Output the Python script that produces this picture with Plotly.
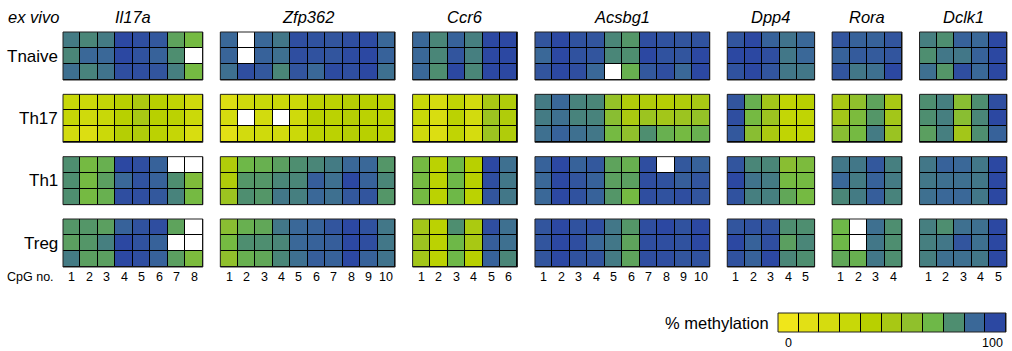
import plotly.graph_objects as go

N = None
genes = ["Il17a", "Zfp362", "Ccr6", "Acsbg1", "Dpp4", "Rora", "Dclk1"]
cell_types = ["Tnaive", "Th17", "Th1", "Treg"]

# each gene: [Tnaive, Th17, Th1, Treg], each a 3-row matrix of % methylation per CpG
il17a = [
    [[85, 82, 85, 100, 98, 95, 75, 68], [82, 90, 90, 100, 97, 92, 80, N], [88, 83, 87, 98, 98, 96, 84, 68]],
    [[30, 28, 33, 40, 48, 40, 35, 25], [32, 25, 30, 40, 50, 40, 38, 28], [22, 15, 28, 42, 45, 38, 32, 18]],
    [[80, 68, 72, 100, 98, 92, N, N], [80, 68, 76, 90, 97, 92, 80, 65], [80, 68, 72, 98, 98, 95, 83, 68]],
    [[78, 78, 76, 92, 97, 98, 75, N], [76, 78, 84, 100, 97, 92, N, N], [85, 76, 76, 100, 98, 92, 76, 66]],
]
zfp362 = [
    [[90, N, 90, 86, 98, 97, 96, 98, 99, 90], [91, N, 92, 88, 98, 97, 96, 99, 100, 92], [88, 98, 95, 82, 96, 90, 99, 98, 100, 88]],
    [[15, 25, 30, 28, 28, 38, 38, 42, 40, 38], [20, N, 22, N, 25, 40, 38, 42, 38, 38], [10, 22, 25, 22, 28, 38, 38, 42, 40, 38]],
    [[45, 70, 72, 76, 80, 82, 85, 90, 90, 78], [45, 78, 78, 82, 82, 93, 88, 100, 92, 82], [55, 80, 78, 86, 84, 90, 88, 95, 96, 78]],
    [[62, 72, 74, 86, 90, 92, 96, 100, 97, 86], [68, 80, 80, 82, 90, 92, 93, 100, 98, 86], [60, 72, 74, 82, 88, 93, 92, 100, 92, 87]],
]
ccr6 = [
    [[90, 82, 92, 84, 100, 100], [90, 82, 96, 84, 100, 100], [90, 80, 100, 82, 100, 100]],
    [[30, 20, 35, 22, 50, 45], [30, 18, 38, 22, 55, 45], [25, 15, 35, 20, 55, 45]],
    [[68, 38, 70, 40, 100, 88], [68, 38, 70, 40, 98, 86], [68, 38, 70, 38, 96, 86]],
    [[52, 38, 80, 48, 98, 88], [55, 38, 70, 50, 93, 88], [52, 38, 70, 40, 92, 82]],
]
acsbg1 = [
    [[96, 100, 97, 96, 82, 78, 98, 97, 96, 97], [90, 100, 97, 96, 82, 80, 100, 97, 96, 100], [96, 100, 98, 90, N, 72, 95, 98, 90, 100]],
    [[85, 90, 83, 82, 58, 45, 45, 42, 45, 50], [85, 88, 83, 83, 62, 48, 55, 52, 55, 58], [88, 92, 88, 86, 68, 60, 80, 72, 68, 72]],
    [[92, 100, 92, 95, 75, 72, 98, N, 95, 92], [90, 100, 96, 92, 76, 76, 98, 97, 93, 96], [90, 100, 97, 92, 78, 68, 98, 97, 98, 96]],
    [[96, 100, 97, 98, 86, 78, 98, 100, 97, 100], [96, 100, 98, 90, 86, 75, 98, 98, 97, 100], [96, 100, 97, 96, 85, 75, 98, 98, 96, 97]],
]
dpp4 = [
    [[96, 100, 92, 87, 90], [100, 100, 98, 86, 90], [97, 100, 96, 86, 86]],
    [[96, 72, 52, 35, 40], [98, 68, 55, 33, 35], [95, 62, 48, 35, 35]],
    [[96, 82, 82, 62, 66], [100, 87, 85, 68, 68], [97, 84, 84, 74, 68]],
    [[96, 97, 97, 80, 80], [100, 92, 98, 76, 82], [97, 92, 100, 82, 80]],
]
rora = [
    [[96, 92, 92, 96], [92, 94, 94, 96], [96, 86, 88, 100]],
    [[50, 60, 75, 50], [52, 66, 78, 52], [62, 68, 85, 56]],
    [[86, 86, 95, 84], [90, 85, 92, 85], [82, 85, 93, 83]],
    [[70, N, 88, 80], [70, N, 86, 80], [74, 72, 86, 80]],
]
dclk1 = [
    [[84, 80, 92, 90, 100], [80, 86, 86, 92, 100], [88, 78, 98, 90, 100]],
    [[80, 84, 62, 80, 98], [80, 84, 62, 82, 100], [76, 84, 52, 80, 92]],
    [[86, 92, 90, 86, 100], [86, 88, 88, 86, 100], [88, 90, 90, 86, 100]],
    [[84, 80, 88, 88, 100], [84, 86, 96, 88, 100], [84, 88, 88, 86, 100]],
]
gene_data = [il17a, zfp362, ccr6, acsbg1, dpp4, rora, dclk1]
legend_values = [0, 10, 20, 30, 40, 50, 60, 70, 80, 90, 100]
legend_ticks = ["0", "100"]

colorscale = [
    [0.0, "#f0e61a"], [0.1, "#e2e015"], [0.2, "#d5dc0f"], [0.3, "#c8d808"],
    [0.4, "#b8d000"], [0.5, "#a8c814"], [0.6, "#90c02c"], [0.7, "#6eb848"],
    [0.8, "#4e8e70"], [0.9, "#3a6898"], [1.0, "#2c48a2"],
]

FONT = "Liberation Sans, Arial, sans-serif"
PITCH = 3.896  # block pitch in row units (3 rows + gap)

W, H = 1012, 351


def px_x(px):
    return px / W


def px_y(py):
    return 1 - py / H


# build grid
gene_starts = []
col = 0
for gi, g in enumerate(gene_data):
    gene_starts.append(col)
    col += len(g[0][0]) + 1
ncols = col - 1
x_edges = list(range(ncols + 1))

y_edges = []
for b in range(4):
    s = b * PITCH
    y_edges += [s, s + 1, s + 2, s + 3]
nrows = len(y_edges) - 1

zdata = [[None] * ncols for _ in range(nrows)]
zmask = [[None] * ncols for _ in range(nrows)]
for gi, g in enumerate(gene_data):
    for b, block in enumerate(g):
        for r, rowvals in enumerate(block):
            for c, v in enumerate(rowvals):
                rr = b * 4 + r
                cc = gene_starts[gi] + c
                zmask[rr][cc] = 0
                zdata[rr][cc] = v

fig = go.Figure()
fig.add_trace(go.Heatmap(x=x_edges, y=y_edges, z=zmask, colorscale=[[0, "black"], [1, "black"]],
                         showscale=False, hoverinfo="skip"))
fig.add_trace(go.Heatmap(x=x_edges, y=y_edges, z=zmask, colorscale=[[0, "white"], [1, "white"]],
                         showscale=False, xgap=1, ygap=1, hoverinfo="skip"))
fig.add_trace(go.Heatmap(x=x_edges, y=y_edges, z=zdata, colorscale=colorscale, zmin=0, zmax=100,
                         showscale=False, xgap=1, ygap=1))

# legend bar
fig.add_trace(go.Heatmap(x=list(range(len(legend_values))), y=[0], z=[[0] * len(legend_values)],
                         colorscale=[[0, "black"], [1, "black"]], showscale=False,
                         xaxis="x2", yaxis="y2", hoverinfo="skip"))
fig.add_trace(go.Heatmap(x=list(range(len(legend_values))), y=[0], z=[legend_values],
                         colorscale=colorscale, zmin=0, zmax=100, showscale=False, xgap=1,
                         xaxis="x2", yaxis="y2"))

shapes = []
annotations = []
for gi, g in enumerate(gene_data):
    n = len(g[0][0])
    x0 = gene_starts[gi]
    for b in range(4):
        shapes.append(dict(type="rect", xref="x", yref="y", x0=x0, x1=x0 + n,
                           y0=b * PITCH, y1=b * PITCH + 3, line=dict(color="#222", width=1),
                           fillcolor="rgba(0,0,0,0)", layer="above"))
    annotations.append(dict(x=x0 + n / 2, y=-0.95, xref="x", yref="y", text=f"<i>{genes[gi]}</i>",
                            showarrow=False, xanchor="center", yanchor="middle",
                            font=dict(size=16.5, family=FONT, color="black")))
    for c in range(n):
        annotations.append(dict(x=x0 + c + 0.5, y=15.3, xref="x", yref="y", text=str(c + 1),
                                showarrow=False, xanchor="center", yanchor="middle",
                                font=dict(size=12.5, family=FONT, color="black")))

shapes.append(dict(type="rect", xref="x2 domain", yref="y2 domain", x0=0, x1=1, y0=0, y1=1,
                   line=dict(color="#222", width=1), fillcolor="rgba(0,0,0,0)", layer="above"))

for b, name in enumerate(cell_types):
    annotations.append(dict(x=px_x(60), y=b * PITCH + 1.5, xref="paper", yref="y", text=name,
                            showarrow=False, xanchor="right", yanchor="middle",
                            font=dict(size=17, family=FONT, color="black")))

annotations.append(dict(x=px_x(6), y=-0.95, xref="paper", yref="y", text="<i>ex vivo</i>",
                        showarrow=False, xanchor="left", yanchor="middle",
                        font=dict(size=16.5, family=FONT, color="black")))
annotations.append(dict(x=px_x(5), y=15.3, xref="paper", yref="y", text="CpG no.",
                        showarrow=False, xanchor="left", yanchor="middle",
                        font=dict(size=12.5, family=FONT, color="black")))
annotations.append(dict(x=px_x(771), y=px_y(323), xref="paper", yref="paper", text="% methylation",
                        showarrow=False, xanchor="right", yanchor="middle",
                        font=dict(size=16.5, family=FONT, color="black")))
annotations.append(dict(x=0, y=px_y(343), xref="x2", yref="paper", text=legend_ticks[0],
                        showarrow=False, xanchor="center", yanchor="middle",
                        font=dict(size=12.5, family=FONT, color="black")))
annotations.append(dict(x=len(legend_values) - 1.15, y=px_y(343), xref="x2", yref="paper", text=legend_ticks[1],
                        showarrow=False, xanchor="center", yanchor="middle",
                        font=dict(size=12.5, family=FONT, color="black")))

PX = 17.48
LEFT = 63
TOP = 32
RH = 16
fig.update_layout(
    width=W, height=H,
    margin=dict(l=0, r=0, t=0, b=0),
    plot_bgcolor="white", paper_bgcolor="white",
    xaxis=dict(domain=[0, 1], range=[-LEFT / PX, (W - LEFT) / PX], visible=False, fixedrange=True),
    yaxis=dict(domain=[0, 1], range=[(H - TOP) / RH, -TOP / RH], visible=False, fixedrange=True),
    xaxis2=dict(domain=[px_x(778), px_x(1006)], range=[-0.5, len(legend_values) - 0.5], visible=False,
                anchor="y2", fixedrange=True),
    yaxis2=dict(domain=[px_y(332), px_y(313)], range=[-0.5, 0.5], visible=False, anchor="x2",
                fixedrange=True),
    shapes=shapes, annotations=annotations, showlegend=False,
)
fig.write_html(
    "out.html",
    config={"displayModeBar": False},
    post_script="document.body.style.margin='0px';document.documentElement.style.overflow='hidden';",
)
